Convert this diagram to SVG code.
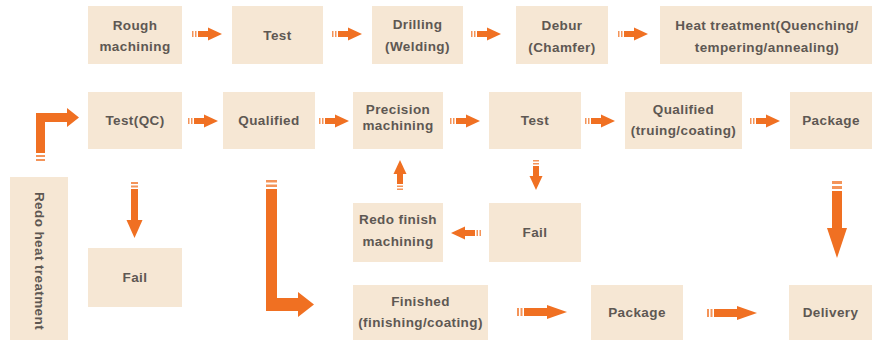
<svg xmlns="http://www.w3.org/2000/svg" width="876" height="340" viewBox="0 0 876 340">
<style>
.box{fill:#F6E7D4}
.t{font-family:"Liberation Sans",Arial,sans-serif;font-size:13.5px;font-weight:bold;fill:#5E5853;text-anchor:middle;letter-spacing:0.4px}
.ar{fill:#F07022}
.st{fill:#F07022;opacity:0.75}
</style>
<defs>
<g id="a30">
<rect class="st" x="0" y="-3" width="1.5" height="6"/>
<rect class="st" x="3" y="-3" width="1.5" height="6"/>
<rect class="ar" x="6" y="-3" width="11" height="6"/>
<polygon class="ar" points="16,-6.5 30,0 16,6.5"/>
</g>
<g id="a50">
<rect class="st" x="0" y="-4" width="2" height="8"/>
<rect class="st" x="3.5" y="-4" width="2" height="8"/>
<rect class="ar" x="7" y="-4" width="24" height="8"/>
<polygon class="ar" points="30,-7 50,0 30,7"/>
</g>
</defs>
<rect width="876" height="340" fill="#ffffff"/>

<g id="rough"><rect class="box" x="88" y="6" width="94" height="58"/><text class="t" x="135" y="30">Rough</text><text class="t" x="135" y="51">machining</text></g>
<g id="test1"><rect class="box" x="232" y="6" width="91" height="58"/><text class="t" x="277.5" y="40">Test</text></g>
<g id="drilling"><rect class="box" x="372" y="6" width="91" height="58"/><text class="t" x="417.5" y="29">Drilling</text><text class="t" x="417.5" y="51">(Welding)</text></g>
<g id="debur"><rect class="box" x="516" y="6" width="92" height="58"/><text class="t" x="562" y="30">Debur</text><text class="t" x="562" y="52">(Chamfer)</text></g>
<g id="heat"><rect class="box" x="660" y="6" width="212" height="58"/><text class="t" x="767" y="30">Heat treatment(Quenching/</text><text class="t" x="767" y="52">tempering/annealing)</text></g>

<g id="testqc"><rect class="box" x="88" y="92" width="94" height="57"/><text class="t" x="135" y="125">Test(QC)</text></g>
<g id="qualified"><rect class="box" x="223" y="92" width="92" height="57"/><text class="t" x="269" y="125">Qualified</text></g>
<g id="precision"><rect class="box" x="353" y="92" width="90" height="57"/><text class="t" x="398" y="114">Precision</text><text class="t" x="398" y="130">machining</text></g>
<g id="test2"><rect class="box" x="489" y="92" width="92" height="57"/><text class="t" x="535" y="125">Test</text></g>
<g id="qualified2"><rect class="box" x="625" y="92" width="117" height="57"/><text class="t" x="683.5" y="114">Qualified</text><text class="t" x="683.5" y="135">(truing/coating)</text></g>
<g id="package1"><rect class="box" x="790" y="92" width="82" height="57"/><text class="t" x="831" y="125">Package</text></g>

<g id="redoheat"><rect class="box" x="10" y="177" width="58" height="163"/><text class="t" transform="translate(34.5,261) rotate(90)" letter-spacing="1.2">Redo heat treatment</text></g>
<g id="fail1"><rect class="box" x="88" y="248" width="94" height="59"/><text class="t" x="135" y="282">Fail</text></g>
<g id="redofinish"><rect class="box" x="353" y="203" width="90" height="59"/><text class="t" x="398" y="224">Redo finish</text><text class="t" x="398" y="246">machining</text></g>
<g id="fail2"><rect class="box" x="489" y="203" width="92" height="59"/><text class="t" x="535" y="237">Fail</text></g>
<g id="finished"><rect class="box" x="353" y="285" width="135" height="55"/><text class="t" x="420.5" y="306">Finished</text><text class="t" x="420.5" y="327">(finishing/coating)</text></g>
<g id="package2"><rect class="box" x="591" y="285" width="92" height="55"/><text class="t" x="637" y="317">Package</text></g>
<g id="delivery"><rect class="box" x="789" y="285" width="83" height="55"/><text class="t" x="830.5" y="317">Delivery</text></g>

<g id="connectors">
<use href="#a30" transform="translate(192,34)"/>
<use href="#a30" transform="translate(332,34)"/>
<use href="#a30" transform="translate(471,34)"/>
<use href="#a30" transform="translate(618,34)"/>

<use href="#a30" transform="translate(188,121)"/>
<use href="#a30" transform="translate(319,121)"/>
<use href="#a30" transform="translate(450,121)"/>
<use href="#a30" transform="translate(585,121)"/>
<use href="#a30" transform="translate(750,121)"/>

<use href="#a30" transform="translate(536,160) rotate(90)"/>
<use href="#a30" transform="translate(481,233) rotate(180)"/>
<use href="#a30" transform="translate(400,190) rotate(-90)"/>

<use href="#a50" transform="translate(517,312)"/>
<use href="#a50" transform="translate(707,313)"/>

<!-- Test(QC) down to Fail -->
<rect class="st" x="131" y="182" width="7" height="2"/>
<rect class="st" x="131" y="185.5" width="7" height="2"/>
<rect class="ar" x="131" y="189" width="7" height="32"/>
<polygon class="ar" points="126.5,220 142.5,220 134.5,238"/>

<!-- Package down to Delivery -->
<rect class="st" x="832" y="181" width="10" height="3"/>
<rect class="st" x="832" y="186" width="10" height="3"/>
<rect class="ar" x="832" y="191" width="10" height="38"/>
<polygon class="ar" points="827,228 847,228 837,258"/>

<!-- Redo heat treatment L-arrow -->
<rect class="st" x="36" y="159" width="9" height="2"/>
<rect class="st" x="36" y="155" width="9" height="2"/>
<path class="ar" d="M36,153 V113 H67 V108 L79,117.5 L67,127 V122 H45 V153 Z"/>

<!-- Qualified long L-arrow -->
<rect class="st" x="266" y="180" width="11" height="2.5"/>
<rect class="st" x="266" y="184.5" width="11" height="2.5"/>
<path class="ar" d="M266,189 V311 H298 V317 L314,304.5 L298,292 V298 H277 V189 Z"/>
</g>
</svg>
